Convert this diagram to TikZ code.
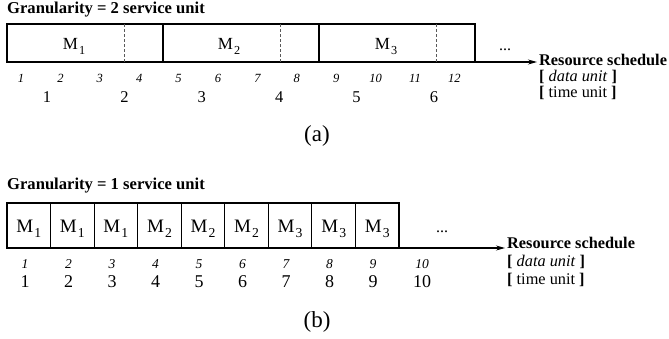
\documentclass[tikz,border=0pt]{standalone}
\usepackage{fontspec}
\setmainfont{Liberation Serif}
\usetikzlibrary{arrows.meta}
\newcommand{\msub}[2]{#1\kern0.06em\raisebox{-0.3em}{\scalebox{0.72}{#2}}}
\tikzset{
  boxline/.style={line width=1.1pt},
  divline/.style={line width=0.9pt, draw=black!65, dash pattern=on 3pt off 2pt},
  arr/.style={line width=1.1pt, -{Stealth[length=9pt,width=5pt]}},
  title/.style={anchor=base west, inner sep=0pt, font=\fontsize{16.6}{18}\selectfont\bfseries},
  mlabA/.style={anchor=base, inner sep=0pt, font=\fontsize{17}{19}\selectfont},
  mlabB/.style={anchor=base, inner sep=0pt, font=\fontsize{19}{21}\selectfont},
  inumA/.style={anchor=base, inner sep=0pt, font=\fontsize{12.5}{14}\selectfont\itshape},
  inumB/.style={anchor=base, inner sep=0pt, font=\fontsize{13.5}{15}\selectfont\itshape},
  unumA/.style={anchor=base, inner sep=0pt, font=\fontsize{16.5}{18}\selectfont},
  unumB/.style={anchor=base, inner sep=0pt, font=\fontsize{18}{20}\selectfont},
  rsbold/.style={anchor=base west, inner sep=0pt, font=\fontsize{16.3}{18}\selectfont\bfseries},
  rsunit/.style={anchor=base west, inner sep=0pt, font=\fontsize{16.3}{18}\selectfont},
  dots/.style={anchor=base, inner sep=0pt, font=\fontsize{16}{18}\selectfont},
  caption/.style={anchor=base, inner sep=0pt, font=\fontsize{23}{26}\selectfont},
}
\begin{document}
\begin{tikzpicture}[x=1pt,y=-1pt]
\useasboundingbox (0,0) rectangle (669,338);
% ---------- (a) ----------
\node[title] (ta) at (7,13.5) {Granularity = 2 service unit};
\draw[boxline] (7,24) rectangle (475,62);
\draw[boxline] (163,24) -- (163,62);
\draw[boxline] (319,24) -- (319,62);
\foreach \x in {124,280,436} \draw[divline] (\x,24) -- (\x,62);
\node[mlabA] (ma1) at (74,49) {\msub{M}{1}};
\node[mlabA] (ma2) at (229,49) {\msub{M}{2}};
\node[mlabA] (ma3) at (386,49) {\msub{M}{3}};
\node[dots] (da) at (505,50) {...};
\coordinate (aendA) at (475,62);
\coordinate (atipA) at (537,62);
\draw[arr] (aendA) -- (atipA);
\node[rsbold] (rsa) at (539,65) {Resource schedule};
\node[rsunit] (dua) at (539,81) {\textbf{[} \textit{data unit} \textbf{]}};
\node[rsunit] (tua) at (539,97) {\textbf{[} time unit \textbf{]}};
\foreach \i in {1,...,12} \node[inumA] (ia\i) at ({21+39.4*(\i-1)},82) {\i};
\foreach \j in {1,...,6} \node[unumA] (ua\j) at ({47+77.4*(\j-1)},102) {\j};
\node[caption] (capa) at (317,141) {(a)};
% ---------- (b) ----------
\node[title] (tb) at (7,189) {Granularity = 1 service unit};
\foreach \k in {0,...,8} \draw[boxline] ({7+43.56*\k},203) rectangle ({7+43.56*(\k+1)},248);
\foreach \k/\m in {1/1,2/1,3/1,4/2,5/2,6/2,7/3,8/3,9/3}
  \node[mlabB] (mb\k) at ({7+43.56*(\k-0.5)},232) {\msub{M}{\m}};
\node[dots] (db) at (442,232) {...};
\coordinate (aendB) at (399,248);
\coordinate (atipB) at (505,248);
\draw[arr] (aendB) -- (atipB);
\node[rsbold] (rsb) at (507,248) {Resource schedule};
\node[rsunit] (dub) at (507,266) {\textbf{[} \textit{data unit} \textbf{]}};
\node[rsunit] (tub) at (507,284) {\textbf{[} time unit \textbf{]}};
\foreach \i in {1,...,9} \node[inumB] (ib\i) at ({25+43.5*(\i-1)},268) {\i};
\node[inumB] (ib10) at (422,268) {10};
\foreach \i in {1,...,9} \node[unumB] (ub\i) at ({25+43.5*(\i-1)},287) {\i};
\node[unumB] (ub10) at (422,287) {10};
\node[caption] (capb) at (317,327) {(b)};
\end{tikzpicture}
\end{document}
